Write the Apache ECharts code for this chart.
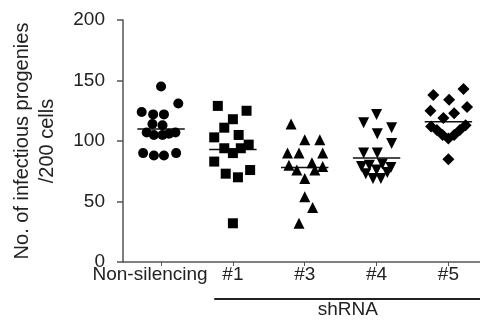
<!DOCTYPE html>
<html><head><meta charset="utf-8">
<script src="https://cdn.jsdelivr.net/npm/echarts@6/dist/echarts.min.js"></script>
<style>html,body{margin:0;padding:0;background:#fff}#c{width:480px;height:329px}</style>
</head><body><div id="c"></div>
<script>
const categories = ['Non-silencing', '#1', '#3', '#4', '#5'];
const yTicks = [0, 50, 100, 150, 200];
// each point: [horizontal jitter within group, value]
const nonSilencing = [[0,145],[0.24,131],[-0.27,124],[-0.11,122],[0.04,122],[-0.12,114],[0.02,113],[-0.2,107],[-0.1,105],[0.02,105],[0.11,106],[0.2,107],[-0.25,90],[-0.1,88],[0.04,88],[0.21,90]];
const sh1 = [[-0.21,129],[0.19,125],[0,118],[-0.12,111],[-0.26,103],[0.08,105],[-0.12,94],[0,90],[0.11,94],[0.22,97],[-0.26,83],[-0.1,73],[0.07,70],[0.24,76],[0,32]];
const sh3 = [[-0.19,114],[0,101],[0.21,101],[-0.24,90],[-0.08,90],[0.25,90],[-0.22,80],[-0.11,76],[0.1,82],[0.14,76],[0.25,79],[0,69],[0,54],[0.11,45],[-0.08,32]];
const sh4 = [[0,122],[-0.18,115],[0.21,111],[0.01,106],[0.21,98],[-0.18,90],[0.01,90],[-0.21,79],[-0.1,80],[0.08,81],[0.2,78],[-0.15,73],[0.15,74],[-0.05,69],[0.06,69],[0,76]];
const sh5 = [[0.21,143],[-0.21,138],[0.01,134],[-0.25,125],[0.26,128],[0.08,123],[-0.07,119],[-0.24,112],[-0.16,109],[-0.08,105],[0,102],[0.08,105],[0.16,109],[0.24,113],[0,85]];
const means = [110, 93, 78, 86, 116];

const groups = [nonSilencing, sh1, sh3, sh4, sh5];
const symbols = ['circle', 'rect', 'triangle', 'triangle', 'diamond'];
const rotates = [0, 0, 0, 180, 0];
const sizes = [10, 10, 11, 11, 12];
const FONT = 'Liberation Sans';
const FS = 19;

const chart = echarts.init(document.getElementById('c'), null, {renderer: 'canvas'});
const series = groups.map((g, i) => ({
  type: 'scatter',
  z: 3,
  symbol: symbols[i],
  symbolRotate: rotates[i],
  symbolSize: sizes[i],
  itemStyle: {color: '#000', opacity: 1},
  data: g.map(p => [i + p[0], p[1]])
}));
series.push({
  type: 'custom',
  z: 2,
  data: means.map((m, i) => [i, m]),
  renderItem: function (params, api) {
    const a = api.coord([api.value(0) - 0.33, api.value(1)]);
    const b = api.coord([api.value(0) + 0.33, api.value(1)]);
    return {type: 'line', shape: {x1: a[0], y1: a[1], x2: b[0], y2: b[1]}, style: {stroke: '#111', lineWidth: 1.5}};
  }
});

chart.setOption({
  animation: false,
  grid: {left: 123, right: 0, top: 20, bottom: 67, containLabel: false},
  xAxis: {
    type: 'value', min: -0.53, max: 4.44,
    splitLine: {show: false},
    axisLine: {onZero: false, lineStyle: {color: '#555', width: 1.5}},
    axisTick: {show: true, customValues: [0, 1, 2, 3, 4], length: 4, inside: false, lineStyle: {color: '#555'}},
    axisLabel: {
      customValues: [0, 1, 2, 3, 4], margin: 3,
      color: '#222', fontFamily: FONT, fontSize: FS,
      formatter: v => v === 0 ? '{a|' + categories[0] + '}' : categories[Math.round(v)],
      rich: {a: {padding: [0, 22, 0, 0], fontFamily: FONT, fontSize: FS, color: '#222'}}
    }
  },
  yAxis: {
    type: 'value', min: yTicks[0], max: yTicks[yTicks.length - 1], interval: 50,
    splitLine: {show: false},
    axisLine: {show: true, onZero: false, lineStyle: {color: '#555', width: 1.5}},
    axisTick: {show: true, length: 6, lineStyle: {color: '#555', width: 1.5}},
    axisLabel: {margin: 18, color: '#222', fontFamily: FONT, fontSize: FS},
    name: 'No. of infectious progenies\n/200 cells',
    nameLocation: 'middle', nameGap: 63,
    nameTextStyle: {color: '#222', fontFamily: FONT, fontSize: 20, lineHeight: 25, align: 'center'}
  },
  series: series
});

const x0 = chart.convertToPixel({xAxisIndex: 0}, 0.74);
const x1 = chart.convertToPixel({xAxisIndex: 0}, 4.44);
const xc = chart.convertToPixel({xAxisIndex: 0}, 2.6);
chart.setOption({
  graphic: [
    {type: 'line', shape: {x1: x0, y1: 299, x2: x1, y2: 299}, style: {stroke: '#222', lineWidth: 2}},
    {type: 'text', x: xc, y: 300, style: {text: 'shRNA', fill: '#222', font: FS + 'px "Liberation Sans"', textAlign: 'center', textVerticalAlign: 'top'}}
  ]
});
</script></body></html>
